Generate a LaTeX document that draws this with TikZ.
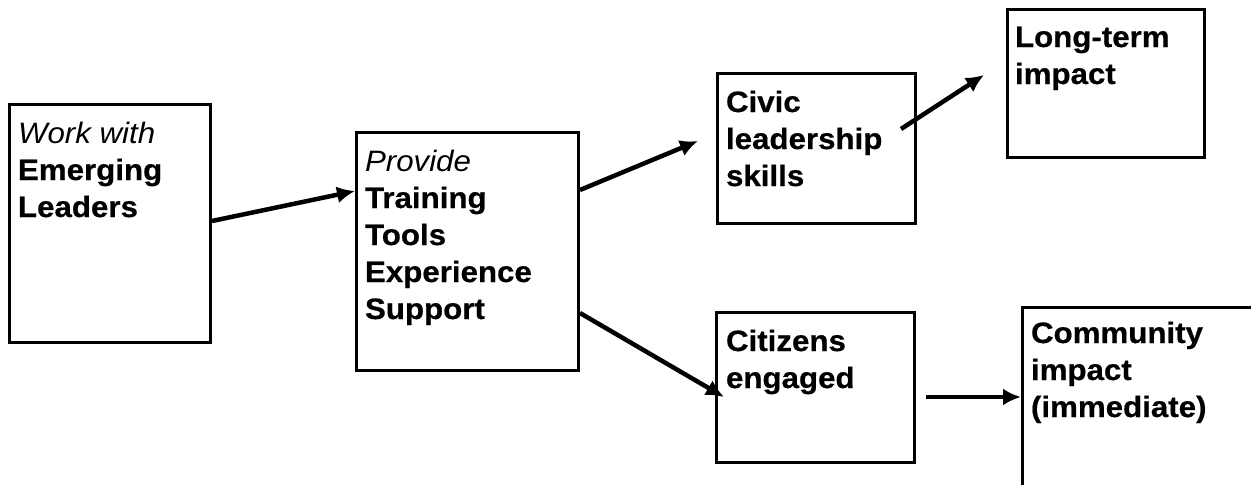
\documentclass[tikz,border=0pt]{standalone}
\usepackage{fontspec}
\setmainfont{Liberation Sans}[FakeStretch=1.06, BoldFeatures={FakeBold=0.6}]
\usetikzlibrary{arrows.meta,calc}
\begin{document}
\begin{tikzpicture}[x=1pt,y=-1pt,
  stage/.style n args={2}{draw, line width=3pt, inner sep=0pt, outer sep=0pt,
    anchor=north west, minimum width=#1pt, minimum height=#2pt},
  openstage/.style n args={2}{inner sep=0pt, outer sep=0pt,
    anchor=north west, minimum width=#1pt, minimum height=#2pt},
  frame/.style={line width=3pt},
  lbl/.style={anchor=north west, inner sep=0pt, outer sep=0pt, align=left,
    font=\fontsize{29.5pt}{37pt}\selectfont\bfseries},
  flow/.style={line width=4.5pt, -{Latex[length=18pt,width=17pt]}},
]
\useasboundingbox (0,0) rectangle (1251,485);

% boxes of the chain
\node[stage={201}{238}] (b1) at (9,104) {};
\node[stage={222}{238}] (b2) at (356,132) {};
\node[stage={198}{150}] (b3) at (717,73) {};
\node[stage={197}{148}] (b4) at (1007,9) {};
\node[stage={198}{150}] (b5) at (716,312) {};
\node[openstage={229}{178}] (b6) at (1022,307) {};
\draw[frame] (b6.north east) -- (b6.north west) -- (b6.south west);

% box texts
\node[lbl] (t1) at ($(b1.north west)+(9,17)$)
  {\rule{0pt}{22pt}{\mdseries\itshape Work with}\\Emerging\\Leaders};
\node[lbl] (t2) at ($(b2.north west)+(9,17)$)
  {\rule{0pt}{22pt}{\mdseries\itshape Provide}\\Training\\Tools\\Experience\\Support};
\node[lbl] (t3) at ($(b3.north west)+(9,17)$)
  {\rule{0pt}{22pt}Civic\\leadership\\skills};
\node[lbl] (t4) at ($(b4.north west)+(8,16)$)
  {\rule{0pt}{22pt}Long-term\\impact};
\node[lbl] (t5) at ($(b5.north west)+(10,17)$)
  {\rule{0pt}{22pt}Citizens\\engaged};
\node[lbl] (t6) at ($(b6.north west)+(9,14)$)
  {\rule{0pt}{22pt}Community\\impact\\(immediate)};

% connectors
\draw[flow] ($(b1.north east)+(2,117)$) -- ($(b2.north west)+(-1,59)$);
\draw[flow] ($(b2.north east)+(2,58)$) -- ($(b3.north west)+(-19,68)$);
\draw[flow] ($(b3.north east)+(-14,56)$) -- ($(b4.north west)+(-23,66)$);
\draw[flow] ($(b2.north east)+(2,181)$) -- ($(b5.north west)+(8,85)$);
\draw[flow] ($(b5.north east)+(12,85)$) -- ($(b6.north west)+(-1,90)$);
\end{tikzpicture}
\end{document}
